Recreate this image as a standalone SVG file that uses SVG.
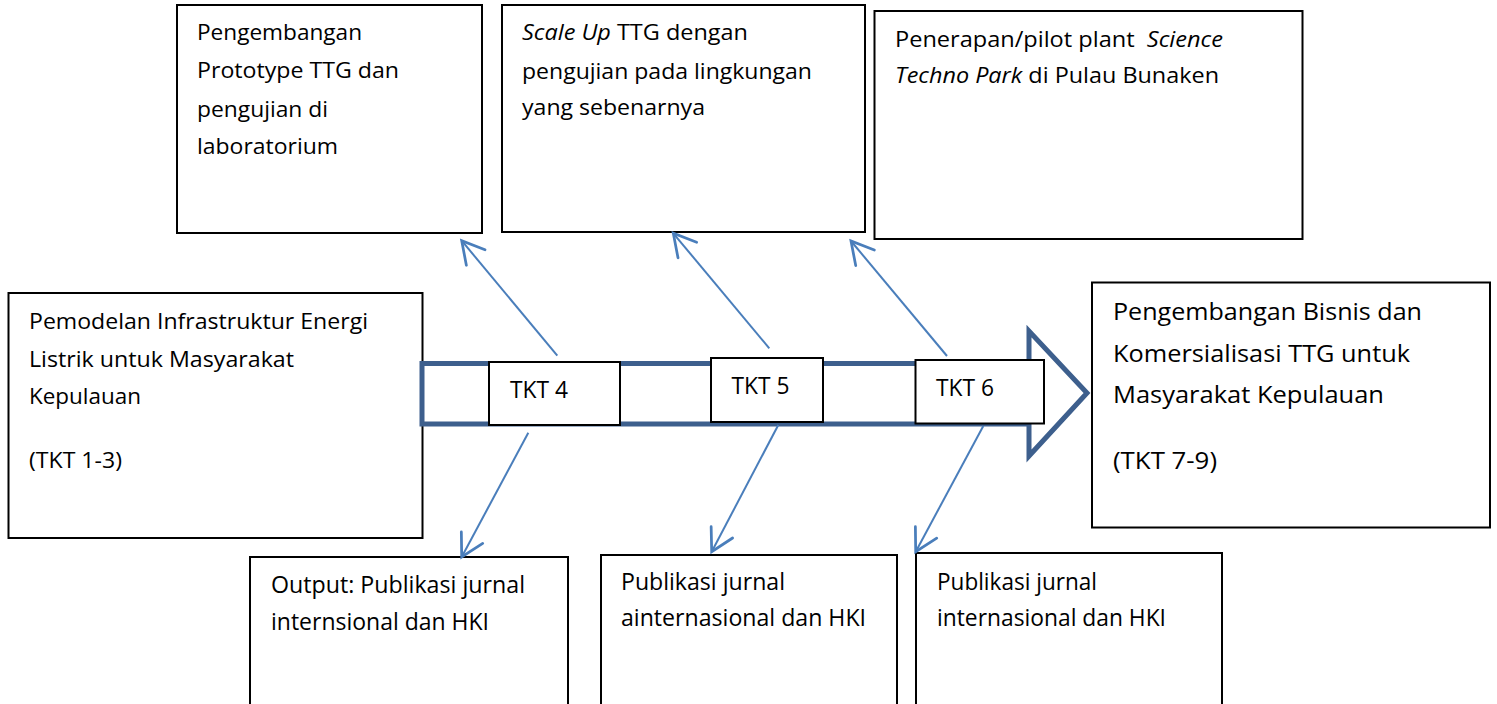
<svg xmlns="http://www.w3.org/2000/svg" width="1497" height="704" viewBox="0 0 1497 704">
  <style>
    .box { fill: #ffffff; stroke: #000000; stroke-width: 2; }
    .t { font-family: "Open Sans", "Noto Sans", "Liberation Sans", sans-serif; fill: #000000; }
    .s20 { font-size: 21.5px; }
    .s21 { font-size: 22px; }
    .s23 { font-size: 24px; }
    .i { font-style: italic; }
    .band { fill: #ffffff; stroke: #3D5F8D; stroke-width: 5; stroke-linejoin: miter; }
    .link { stroke: #4A7EBB; stroke-width: 2; fill: none; marker-end: url(#open); }
  </style>
  <defs>
    <marker id="open" markerUnits="userSpaceOnUse" orient="auto" markerWidth="30" markerHeight="30" refX="0" refY="0" viewBox="-20 -12 22 24" overflow="visible">
      <path d="M-17.5,-9.7 L0,0 L-17.5,9.7" fill="none" stroke="#4A7EBB" stroke-width="2.2" stroke-linecap="round" stroke-linejoin="miter"/>
    </marker>
  </defs>
  <rect width="1497" height="704" fill="#ffffff"/>

  <!-- starting stage -->
  <g id="node-start">
    <rect class="box" x="8.5" y="293" width="414" height="245"/>
    <text class="t s21" x="29" y="329" textLength="339" lengthAdjust="spacingAndGlyphs">Pemodelan Infrastruktur Energi</text>
    <text class="t s21" x="29" y="367" textLength="265" lengthAdjust="spacingAndGlyphs">Listrik untuk Masyarakat</text>
    <text class="t s21" x="29" y="404" textLength="112" lengthAdjust="spacingAndGlyphs">Kepulauan</text>
    <text class="t s21" x="29" y="468" textLength="93" lengthAdjust="spacingAndGlyphs">(TKT 1-3)</text>
  </g>

  <!-- main progress arrow -->
  <g id="node-progress">
    <polygon class="band" points="422,363.5 1029,363.5 1029,331 1087,393 1029,456 1029,424 422,424"/>
  </g>

  <!-- final stage -->
  <g id="node-final">
    <rect class="box" x="1092" y="282.5" width="398" height="245"/>
    <text class="t s23" x="1113" y="320" textLength="309" lengthAdjust="spacingAndGlyphs">Pengembangan Bisnis dan</text>
    <text class="t s23" x="1113" y="362" textLength="297" lengthAdjust="spacingAndGlyphs">Komersialisasi TTG untuk</text>
    <text class="t s23" x="1113" y="403" textLength="271" lengthAdjust="spacingAndGlyphs">Masyarakat Kepulauan</text>
    <text class="t s23" x="1113" y="469" textLength="104" lengthAdjust="spacingAndGlyphs">(TKT 7-9)</text>
  </g>

  <!-- upper activity boxes -->
  <g id="node-prototype">
    <rect class="box" x="177" y="5" width="305" height="228"/>
    <text class="t s20" x="197" y="40" textLength="165" lengthAdjust="spacingAndGlyphs">Pengembangan</text>
    <text class="t s20" x="197" y="78" textLength="202" lengthAdjust="spacingAndGlyphs">Prototype TTG dan</text>
    <text class="t s20" x="197" y="117" textLength="131" lengthAdjust="spacingAndGlyphs">pengujian di</text>
    <text class="t s20" x="197" y="154" textLength="141" lengthAdjust="spacingAndGlyphs">laboratorium</text>
  </g>
  <g id="node-scaleup">
    <rect class="box" x="502" y="5" width="363" height="227"/>
    <text class="t s20" x="522" y="40" textLength="226" lengthAdjust="spacingAndGlyphs"><tspan class="i">Scale Up</tspan> TTG dengan</text>
    <text class="t s20" x="522" y="79" textLength="290" lengthAdjust="spacingAndGlyphs">pengujian pada lingkungan</text>
    <text class="t s20" x="522" y="115" textLength="183" lengthAdjust="spacingAndGlyphs">yang sebenarnya</text>
  </g>
  <g id="node-pilot">
    <rect class="box" x="874.5" y="11" width="428" height="228"/>
    <text class="t s20" x="895" y="47" textLength="328" lengthAdjust="spacingAndGlyphs" xml:space="preserve">Penerapan/pilot plant  <tspan class="i">Science</tspan></text>
    <text class="t s20" x="895" y="83" textLength="324" lengthAdjust="spacingAndGlyphs"><tspan class="i">Techno Park</tspan> di Pulau Bunaken</text>
  </g>

  <!-- lower output boxes -->
  <g id="node-output4">
    <rect class="box" x="250" y="557" width="318" height="170"/>
    <text class="t s23" x="271" y="593" textLength="254" lengthAdjust="spacingAndGlyphs">Output: Publikasi jurnal</text>
    <text class="t s23" x="271" y="630" textLength="218" lengthAdjust="spacingAndGlyphs">internsional dan HKI</text>
  </g>
  <g id="node-output5">
    <rect class="box" x="601" y="555" width="296" height="170"/>
    <text class="t s23" x="621" y="590" textLength="164" lengthAdjust="spacingAndGlyphs">Publikasi jurnal</text>
    <text class="t s23" x="621" y="626" textLength="245" lengthAdjust="spacingAndGlyphs">ainternasional dan HKI</text>
  </g>
  <g id="node-output6">
    <rect class="box" x="916" y="553" width="306" height="170"/>
    <text class="t s23" x="937" y="590" textLength="160" lengthAdjust="spacingAndGlyphs">Publikasi jurnal</text>
    <text class="t s23" x="937" y="626" textLength="229" lengthAdjust="spacingAndGlyphs">internasional dan HKI</text>
  </g>

  <!-- connectors from each TKT stage -->
  <g id="connectors">
    <line class="link" x1="557.3" y1="355.7" x2="461.7" y2="240.7"/>
    <line class="link" x1="769.3" y1="348.3" x2="673.3" y2="233.3"/>
    <line class="link" x1="947" y1="356" x2="851" y2="241"/>
    <line class="link" x1="528.3" y1="432.7" x2="461.7" y2="557"/>
    <line class="link" x1="778.3" y1="425" x2="711.7" y2="551.7"/>
    <line class="link" x1="983.3" y1="426" x2="915.7" y2="551.7"/>
  </g>

  <!-- TKT stage labels on the progress arrow -->
  <g id="node-tkt4">
    <rect class="box" x="489" y="362" width="131" height="63"/>
    <text class="t s23" x="510" y="398" textLength="58" lengthAdjust="spacingAndGlyphs">TKT 4</text>
  </g>
  <g id="node-tkt5">
    <rect class="box" x="711" y="358" width="112" height="64"/>
    <text class="t s23" x="731.5" y="394" textLength="58" lengthAdjust="spacingAndGlyphs">TKT 5</text>
  </g>
  <g id="node-tkt6">
    <rect class="box" x="915.5" y="360" width="128.5" height="63.5"/>
    <text class="t s23" x="936" y="396" textLength="58" lengthAdjust="spacingAndGlyphs">TKT 6</text>
  </g>
</svg>
